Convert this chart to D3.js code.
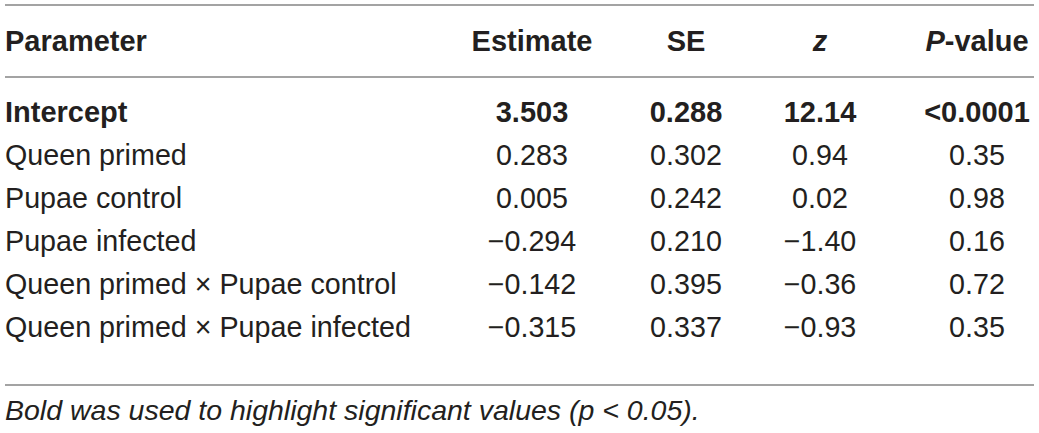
<!DOCTYPE html>
<meta charset="utf-8">
<title>Parameter estimates</title>
<script src="https://cdn.jsdelivr.net/npm/d3@7"></script>
<style>
  html,body{margin:0;background:#fff}
  svg{display:block}
  text{font-family:"Liberation Sans",Arial,Helvetica,sans-serif;fill:#231f20}
  .rule{stroke:#a3a3a3;stroke-width:2}
</style>
<body>
<svg></svg>
<script>
// table data
const columns    = ['Parameter', 'Estimate', 'SE', 'z', 'P-value'];
const parameters = ['Intercept', 'Queen primed', 'Pupae control', 'Pupae infected',
                    'Queen primed \u00d7 Pupae control', 'Queen primed \u00d7 Pupae infected'];
const estimates  = ['3.503', '0.283', '0.005', '\u22120.294', '\u22120.142', '\u22120.315'];
const stdErrors  = ['0.288', '0.302', '0.242', '0.210', '0.395', '0.337'];
const zValues    = ['12.14', '0.94', '0.02', '\u22121.40', '\u22120.36', '\u22120.93'];
const pValues    = ['<0.0001', '0.35', '0.98', '0.16', '0.72', '0.35'];
const significant = [true, false, false, false, false, false];
const footnote   = 'Bold was used to highlight significant values (p < 0.05).';

const W = 1039, H = 433;
const svg = d3.select('svg').attr('width', W).attr('height', H);

// column anchors (first column left aligned, others centred)
const colX = d3.scaleOrdinal().domain(columns).range([5, 532, 686, 820, 977]);
const anchor = c => c === 'Parameter' ? 'start' : 'middle';

// row baselines
const rowY = d3.scalePoint().domain(parameters).range([122, 337]);

// rules
[5, 77, 385].forEach(y =>
  svg.append('line').attr('class', 'rule')
     .attr('x1', 5).attr('x2', 1034).attr('y1', y).attr('y2', y));

// header
const head = svg.append('g').selectAll('text')
  .data(columns)
  .join('text')
  .attr('x', c => colX(c))
  .attr('y', 51)
  .attr('text-anchor', anchor)
  .attr('font-size', 29)
  .attr('font-weight', 'bold');
head.each(function(c) {
  const t = d3.select(this);
  if (c === 'z') t.append('tspan').attr('font-style', 'italic').text('z');
  else if (c === 'P-value') {
    t.append('tspan').attr('font-style', 'italic').text('P');
    t.append('tspan').text('-value');
  } else t.text(c);
});

// body
const rows = parameters.map((p, i) => ({
  key: p, bold: significant[i],
  cells: [p, estimates[i], stdErrors[i], zValues[i], pValues[i]]
}));

const row = svg.append('g').selectAll('g')
  .data(rows)
  .join('g')
  .attr('transform', d => `translate(0,${rowY(d.key)})`);

row.selectAll('text')
  .data(d => d.cells.map((v, j) => ({v, col: columns[j], bold: d.bold})))
  .join('text')
  .attr('x', d => colX(d.col))
  .attr('text-anchor', d => anchor(d.col))
  .attr('font-size', d => d.bold ? 29 : 28.7)
  .attr('font-weight', d => d.bold ? 'bold' : 'normal')
  .text(d => d.v);

// footnote
svg.append('text')
  .attr('x', 5).attr('y', 420)
  .attr('font-size', 28.5)
  .attr('font-style', 'italic')
  .text(footnote);
</script>
</body>
